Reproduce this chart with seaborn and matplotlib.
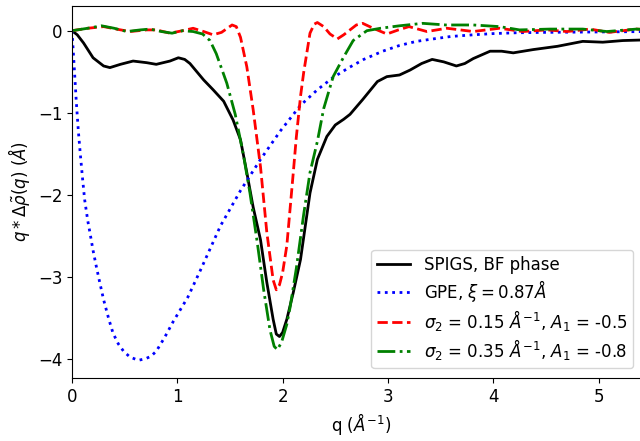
import matplotlib
matplotlib.use("Agg")
import matplotlib.pyplot as plt
import seaborn as sns
import pandas as pd

# SPIGS, BF phase
q_spigs = [0, 0.05, 0.11, 0.2, 0.3, 0.36, 0.46, 0.58, 0.71, 0.80, 0.93, 1.01, 1.07, 1.12,
           1.25, 1.34, 1.44, 1.53, 1.60, 1.66, 1.72, 1.79, 1.85, 1.91, 1.94, 1.97, 2.00,
           2.04, 2.10, 2.17, 2.26, 2.33, 2.42, 2.50, 2.58, 2.64, 2.76, 2.90, 2.99, 3.11,
           3.21, 3.32, 3.42, 3.53, 3.65, 3.73, 3.81, 3.97, 4.08, 4.19, 4.38, 4.61, 4.85,
           5.04, 5.23, 5.5]
y_spigs = [0, -0.05, -0.15, -0.33, -0.43, -0.45, -0.41, -0.37, -0.39, -0.41, -0.37, -0.33,
           -0.35, -0.40, -0.60, -0.72, -0.86, -1.09, -1.33, -1.73, -2.15, -2.55, -3.07,
           -3.52, -3.70, -3.73, -3.68, -3.52, -3.20, -2.79, -1.98, -1.57, -1.29, -1.15,
           -1.08, -1.02, -0.84, -0.62, -0.56, -0.54, -0.48, -0.40, -0.35, -0.38, -0.43,
           -0.40, -0.34, -0.25, -0.25, -0.27, -0.23, -0.19, -0.13, -0.14, -0.12, -0.11]

# GPE
q_gpe = [0.0, 0.02, 0.04, 0.06, 0.08, 0.10, 0.12, 0.15, 0.17, 0.20, 0.23, 0.26, 0.30, 0.35,
         0.39, 0.44, 0.49, 0.55, 0.63, 0.70, 0.75, 0.80, 0.88, 0.96, 1.03, 1.10, 1.22, 1.41,
         1.60, 1.79, 1.98, 2.17, 2.33, 2.48, 2.63, 2.77, 2.95, 3.11, 3.27, 3.43, 3.60, 3.81,
         4.0, 4.22, 4.5, 5.0, 5.5]
y_gpe = [0.0, -0.42, -0.85, -1.22, -1.52, -1.80, -2.06, -2.32, -2.46, -2.68, -2.87, -3.05,
         -3.28, -3.52, -3.69, -3.82, -3.91, -3.98, -4.02, -4.00, -3.97, -3.91, -3.74, -3.55,
         -3.40, -3.25, -2.92, -2.38, -1.95, -1.57, -1.22, -0.91, -0.72, -0.57, -0.45, -0.35,
         -0.25, -0.18, -0.13, -0.10, -0.07, -0.05, -0.035, -0.025, -0.02, -0.015, -0.01]

# sigma2 = 0.15, A1 = -0.5
q_s15 = [0, 0.15, 0.30, 0.42, 0.55, 0.71, 0.80, 0.93, 1.05, 1.15, 1.25, 1.34, 1.42, 1.52,
         1.56, 1.60, 1.66, 1.72, 1.79, 1.85, 1.91, 1.94, 1.97, 2.00, 2.04, 2.10, 2.13, 2.17,
         2.20, 2.26, 2.30, 2.33, 2.39, 2.45, 2.52, 2.58, 2.64, 2.70, 2.76, 2.86, 2.99, 3.10,
         3.20, 3.37, 3.56, 3.81, 4.06, 4.28, 4.51, 4.70, 4.92, 5.10, 5.36, 5.5]
y_s15 = [0, 0.03, 0.05, 0.02, -0.01, 0.01, 0.01, -0.03, 0.00, 0.03, -0.01, -0.05, -0.02, 0.07,
         0.05, -0.08, -0.44, -0.96, -1.66, -2.46, -3.04, -3.16, -3.10, -2.95, -2.62, -1.75,
         -1.30, -0.80, -0.51, -0.03, 0.08, 0.10, 0.05, -0.04, -0.10, -0.05, 0.01, 0.07, 0.09,
         0.03, -0.04, 0.01, 0.05, -0.01, 0.03, -0.01, 0.03, -0.01, 0.01, -0.01, 0.02, -0.02,
         0.02, 0.01]

# sigma2 = 0.35, A1 = -0.8
q_s35 = [0, 0.15, 0.28, 0.40, 0.52, 0.65, 0.74, 0.85, 0.95, 1.05, 1.15, 1.24, 1.31, 1.37,
         1.47, 1.55, 1.63, 1.69, 1.76, 1.82, 1.88, 1.92, 1.95, 1.99, 2.04, 2.07, 2.13, 2.20,
         2.26, 2.33, 2.39, 2.48, 2.58, 2.67, 2.80, 2.93, 3.11, 3.33, 3.55, 3.81, 4.06, 4.25,
         4.54, 4.85, 5.08, 5.36, 5.5]
y_s35 = [0, 0.03, 0.06, 0.03, -0.01, 0.01, 0.02, -0.01, -0.03, 0.00, -0.01, -0.04, -0.12,
         -0.28, -0.64, -1.02, -1.53, -1.98, -2.59, -3.16, -3.65, -3.85, -3.89, -3.80, -3.58,
         -3.38, -2.90, -2.24, -1.73, -1.35, -0.95, -0.56, -0.32, -0.12, 0.00, 0.03, 0.06,
         0.09, 0.07, 0.07, 0.05, 0.01, 0.02, 0.02, -0.01, 0.02, 0.01]

labels = ["SPIGS, BF phase",
          r"GPE, $\xi = 0.87\AA$",
          r"$\sigma_2$ = 0.15 $\AA^{-1}$, $A_1$ = -0.5",
          r"$\sigma_2$ = 0.35 $\AA^{-1}$, $A_1$ = -0.8"]

plt.rcParams["font.size"] = 12
fig = plt.figure(figsize=(6.4, 4.41), dpi=100)
ax = fig.add_axes([0.1125, 0.143, 0.905, 0.8435])

series = [(q_spigs, y_spigs, "black", "-"),
          (q_gpe, y_gpe, "blue", ":"),
          (q_s15, y_s15, "red", "--"),
          (q_s35, y_s35, "green", "-.")]
for (qq, yy, c, ls), lab in zip(series, labels):
    df = pd.DataFrame({"q": qq, "y": yy})
    sns.lineplot(data=df, x="q", y="y", ax=ax, color=c, linestyle=ls, linewidth=2,
                 label=lab, sort=False, estimator=None)

ax.set_xlim(0, 5.5)
ax.set_ylim(-4.235, 0.302)
ax.set_xticks([0, 1, 2, 3, 4, 5])
ax.set_yticks([0, -1, -2, -3, -4])
ax.set_xlabel(r"q ($\AA^{-1}$)")
ax.set_ylabel(r"$q * \Delta\tilde{\rho}(q)$ ($\AA$)")
ax.legend(loc="lower right", bbox_to_anchor=(633 / 640, 1 - 368 / 441),
          bbox_transform=fig.transFigure, borderaxespad=0, fontsize=12,
          labelspacing=0.25, borderpad=0.35)
fig.savefig("out.png", dpi=100)
